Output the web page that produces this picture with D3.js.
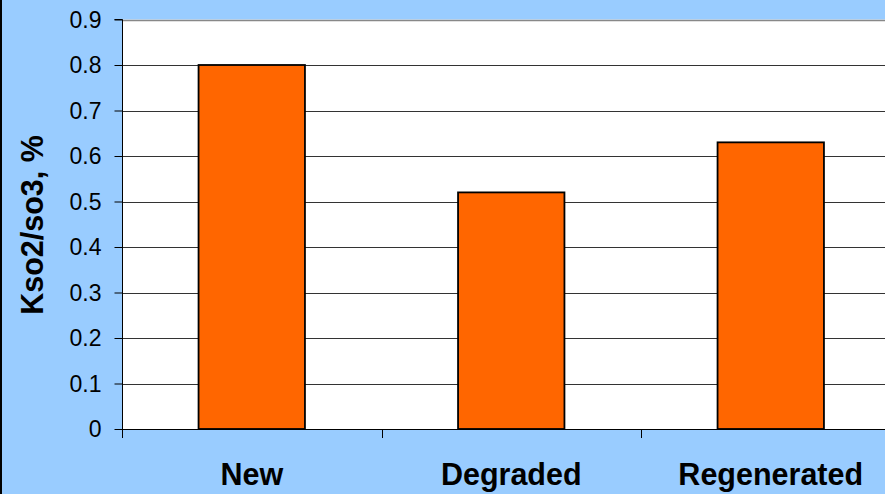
<!DOCTYPE html>
<html>
<head>
<meta charset="utf-8">
<script src="https://cdn.jsdelivr.net/npm/d3@7/dist/d3.min.js"></script>
<style>
  html, body { margin: 0; padding: 0; background: #99CCFF; }
  svg { display: block; }
</style>
</head>
<body>
<script>
// Sulfur oxide ratio by catalyst state
const categories = ["New", "Degraded", "Regenerated"];
const values = [0.80, 0.52, 0.63];
const yTicks = [0, 0.1, 0.2, 0.3, 0.4, 0.5, 0.6, 0.7, 0.8, 0.9];
const yTitle = "Kso2/so3, %";

const W = 885, H = 494;
const plot = { left: 122, top: 19.5, bottom: 429, right: 900.5 };
const font = "'Liberation Sans', Arial, sans-serif";

const svg = d3.select("body").append("svg")
  .attr("width", W).attr("height", H);

svg.append("rect").attr("width", W).attr("height", H).attr("fill", "#99CCFF");
// dark frame edge on the left
svg.append("rect").attr("x", 0).attr("y", 0).attr("width", 2).attr("height", H).attr("fill", "#000");

const x = d3.scaleBand().domain(categories).range([plot.left, plot.right]);
const y = d3.scaleLinear().domain([0, 0.9]).range([plot.bottom, plot.top]);

// plot area
svg.append("rect")
  .attr("x", plot.left).attr("y", plot.top)
  .attr("width", plot.right - plot.left).attr("height", plot.bottom - plot.top)
  .attr("fill", "#fff");

// horizontal gridlines
svg.append("g").selectAll("line")
  .data(yTicks.filter(t => t > 0 && t < 0.9))
  .join("line")
  .attr("x1", plot.left).attr("x2", plot.right)
  .attr("y1", d => Math.round(y(d)) + 0.5).attr("y2", d => Math.round(y(d)) + 0.5)
  .attr("stroke", "#333").attr("stroke-width", 1);

// top border of plot area
svg.append("line")
  .attr("x1", plot.left).attr("x2", plot.right)
  .attr("y1", Math.round(y(0.9)) + 0.5).attr("y2", Math.round(y(0.9)) + 0.5)
  .attr("stroke", "#888").attr("stroke-width", 1.5);

// bars
const barW = x.bandwidth() * 0.41;
svg.append("g").selectAll("rect")
  .data(values)
  .join("rect")
  .attr("x", (d, i) => x(categories[i]) + (x.bandwidth() - barW) / 2)
  .attr("y", d => y(d))
  .attr("width", barW)
  .attr("height", d => y(0) - y(d))
  .attr("fill", "#FF6600")
  .attr("stroke", "#000")
  .attr("stroke-width", 1.8);

// y axis
const yAxis = d3.axisLeft(y)
  .tickValues(yTicks)
  .tickFormat(d => d === 0 ? "0" : d3.format(".1f")(d))
  .tickSize(8)
  .tickPadding(13);
const gy = svg.append("g").attr("transform", `translate(${plot.left + 0.5},0)`).call(yAxis);
gy.select(".domain").attr("stroke", "#000").attr("d", `M-8,${y(0.9)}H0V${y(0) + 8}`);
gy.selectAll(".tick line").attr("stroke", "#000");
gy.selectAll(".tick text")
  .attr("font-family", font).attr("font-size", 23).attr("fill", "#000")
  .attr("dy", "0.34em");

// x axis with ticks at band edges
const xAxisLine = svg.append("g");
xAxisLine.append("line")
  .attr("x1", plot.left).attr("x2", plot.right)
  .attr("y1", plot.bottom + 0.5).attr("y2", plot.bottom + 0.5)
  .attr("stroke", "#000").attr("stroke-width", 1.2);
xAxisLine.selectAll("line.edge")
  .data(categories)
  .join("line").attr("class", "edge")
  .attr("x1", d => Math.round(x(d)) + 0.5).attr("x2", d => Math.round(x(d)) + 0.5)
  .attr("y1", plot.bottom).attr("y2", plot.bottom + 9)
  .attr("stroke", "#000");

// category labels
svg.append("g").selectAll("text")
  .data(categories)
  .join("text")
  .attr("x", d => x(d) + x.bandwidth() / 2)
  .attr("y", 485)
  .attr("text-anchor", "middle")
  .attr("font-family", font).attr("font-weight", "bold").attr("font-size", 30.5)
  .attr("fill", "#000")
  .text(d => d);

// y axis title
svg.append("text")
  .attr("transform", "translate(43,225) rotate(-90)")
  .attr("text-anchor", "middle")
  .attr("font-family", font).attr("font-weight", "bold").attr("font-size", 30.5)
  .attr("fill", "#000")
  .text(yTitle);
</script>
</body>
</html>
